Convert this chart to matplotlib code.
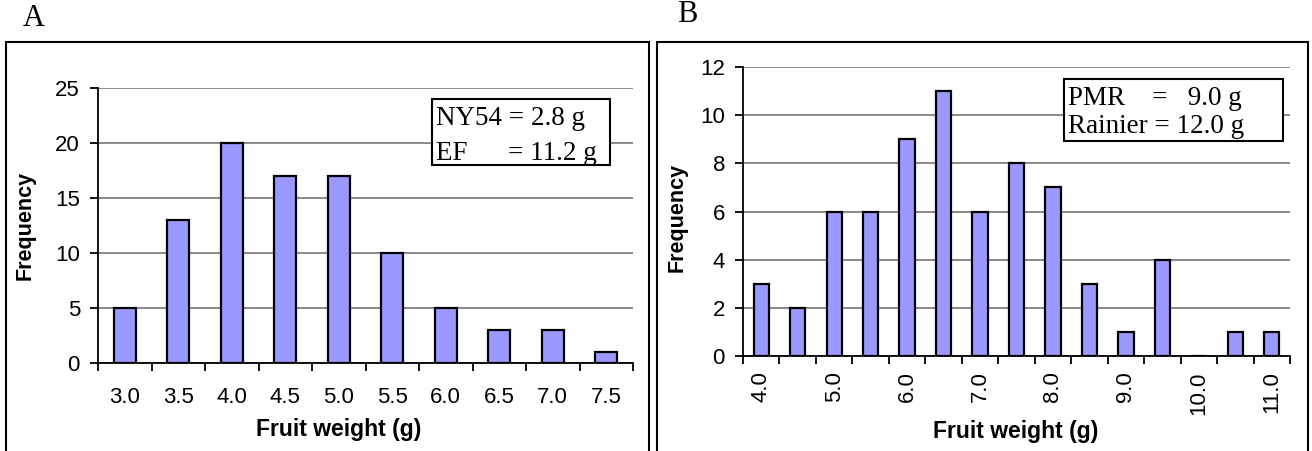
import numpy as np
import matplotlib
matplotlib.use("Agg")
import matplotlib.pyplot as plt
from matplotlib.patches import Rectangle

# panel A: NY54 x EF
cats_a = ["3.0", "3.5", "4.0", "4.5", "5.0", "5.5", "6.0", "6.5", "7.0", "7.5"]
freq_a = [5, 13, 20, 17, 17, 10, 5, 3, 3, 1]

# panel B: PMR x Rainier
cats_b = ["4.0", "4.5", "5.0", "5.5", "6.0", "6.5", "7.0", "7.5", "8.0", "8.5",
          "9.0", "9.5", "10.0", "10.5", "11.0"]
freq_b = [3, 2, 6, 6, 9, 11, 6, 8, 7, 3, 1, 4, 0, 1, 1]

legend_a = ["NY54 = 2.8 g", "EF      = 11.2 g"]
legend_b = ["PMR    =   9.0 g", "Rainier = 12.0 g"]

plt.rcParams['font.family'] = ['Liberation Sans', 'DejaVu Sans']
W, H = 1312, 451
fig = plt.figure(figsize=(W / 100, H / 100), dpi=100)

bar_color = "#9999ff"
serif = ['Liberation Serif', 'DejaVu Serif']


def px(x0, y0, x1, y1):
    # pixel box -> figure rect
    return [x0 / W, 1 - y1 / H, (x1 - x0) / W, (y1 - y0) / H]


def draw_panel(ax, cats, freq, ymax, ystep, label_every, rot, xpad):
    n = len(cats)
    x = np.arange(n)
    ax.bar(x, freq, width=0.42, color=bar_color, edgecolor="black", linewidth=1.6, zorder=3)
    ax.set_xlim(-0.5, n - 0.5)
    ax.set_ylim(0, ymax)
    ax.set_yticks(np.arange(0, ymax + 0.1, ystep))
    ax.grid(axis="y", color="#808080", linewidth=1.3, zorder=0)
    ax.set_axisbelow(True)
    for s in ["top", "right"]:
        ax.spines[s].set_visible(False)
    ax.spines["left"].set_linewidth(1.3)
    ax.spines["bottom"].set_linewidth(1.3)
    ax.set_xticks(x[::label_every])
    ax.set_xticklabels(cats[::label_every], rotation=rot)
    ax.set_xticks(np.arange(n + 1) - 0.5, minor=True)
    ax.tick_params(axis="x", which="major", length=0, pad=xpad, labelsize=16)
    ax.tick_params(axis="x", which="minor", length=6, width=1.3, direction="out")
    ax.tick_params(axis="y", length=6, width=1.3, pad=7, labelsize=16)
    ax.set_xlabel("Fruit weight (g)", fontsize=16.5, fontweight="bold")
    ax.set_ylabel("Frequency", fontsize=15.5, fontweight="bold")


ax_a = fig.add_axes(px(98, 88, 633, 363))
draw_panel(ax_a, cats_a, freq_a, 25, 5, 1, 0, 17)
ax_a.yaxis.set_label_coords(-0.116, 0.5)
ax_a.xaxis.set_label_coords(0.45, -0.2)

ax_b = fig.add_axes(px(743, 67, 1290, 356))
draw_panel(ax_b, cats_b, freq_b, 12, 2, 2, 90, 11)
ax_b.yaxis.set_label_coords(-0.102, 0.48)
ax_b.xaxis.set_label_coords(0.499, -0.222)

# panel frames
for x0, x1 in [(6, 649), (657, 1308)]:
    fig.patches.append(Rectangle((x0 / W, -0.05), (x1 - x0) / W, 1.05 - 42 / H,
                                 transform=fig.transFigure, fill=False,
                                 edgecolor="black", linewidth=1.5))

# legend boxes
for (x0, y0, x1, y1), lines, base, step in [
        ((432, 99, 610, 165), legend_a, 125, 35),
        ((1064, 79, 1283, 141), legend_b, 105, 28)]:
    fig.patches.append(Rectangle((x0 / W, 1 - y1 / H), (x1 - x0) / W, (y1 - y0) / H,
                                 transform=fig.transFigure, facecolor="white",
                                 edgecolor="black", linewidth=1.5, zorder=5))
    for i, t in enumerate(lines):
        fig.text((x0 + 4) / W, 1 - (base + i * step) / H, t, family=serif,
                 fontsize=19.5, va="baseline", ha="left", zorder=6)

fig.text(34 / W, 1 - 18 / H, "A", family=serif, fontsize=22, ha="center", va="center")
fig.text(687 / W, 1 - 14 / H, "B", family=serif, fontsize=22, ha="center", va="center")

fig.savefig("out.png", dpi=100)
